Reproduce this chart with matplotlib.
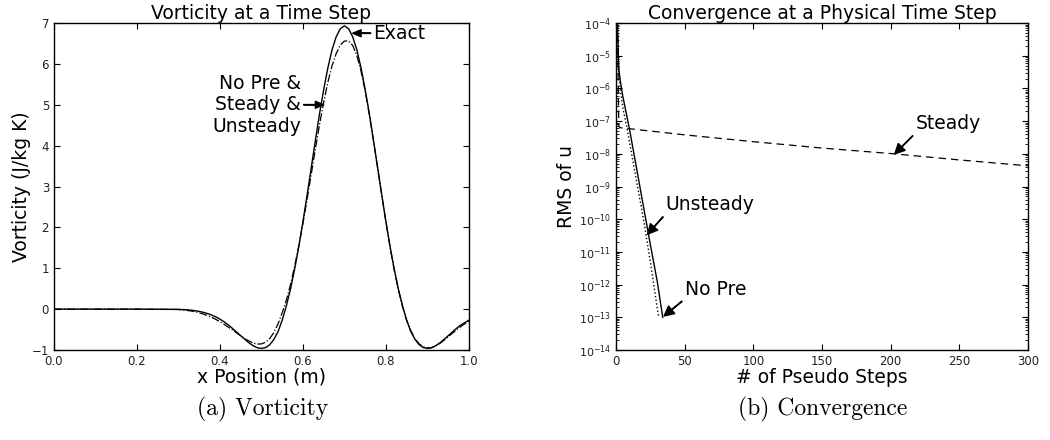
import matplotlib
matplotlib.use('Agg')
import matplotlib.pyplot as plt
from matplotlib.ticker import LogLocator, NullFormatter
import numpy as np

# vorticity profile (flat zero before x = 0.3)
x_pos = [0.0, 0.1, 0.2] + list(np.round(np.arange(0.30, 1.0001, 0.01), 2))
vort_exact = [0.0, 0.0, 0.0,
              -0.005, -0.010, -0.016, -0.025, -0.038, -0.055, -0.078, -0.108, -0.145, -0.19,
              -0.245, -0.31, -0.385, -0.47, -0.56, -0.65, -0.74, -0.825, -0.895, -0.945,
              -0.96, -0.94, -0.87, -0.74, -0.55, -0.27, 0.08, 0.49, 0.98, 1.53,
              2.14, 2.79, 3.46, 4.13, 4.78, 5.37, 5.90, 6.34, 6.66, 6.86,
              6.93, 6.86, 6.66, 6.34, 5.90, 5.37, 4.78, 4.13, 3.46, 2.79,
              2.14, 1.53, 0.98, 0.49, 0.08, -0.27, -0.55, -0.74, -0.87, -0.94,
              -0.96, -0.945, -0.895, -0.825, -0.74, -0.65, -0.56, -0.47, -0.39, -0.33,
              -0.27]
vort_num = [0.0, 0.0, 0.0,
            -0.01, -0.02, -0.03, -0.045, -0.06, -0.09, -0.12, -0.16, -0.20, -0.25,
            -0.31, -0.37, -0.44, -0.51, -0.58, -0.65, -0.72, -0.78, -0.83, -0.855,
            -0.85, -0.81, -0.72, -0.57, -0.36, -0.09, 0.22, 0.60, 1.05, 1.55,
            2.10, 2.69, 3.30, 3.92, 4.52, 5.06, 5.55, 5.95, 6.25, 6.46,
            6.56, 6.56, 6.45, 6.20, 5.82, 5.33, 4.75, 4.11, 3.45, 2.78,
            2.12, 1.51, 0.95, 0.47, 0.06, -0.28, -0.53, -0.72, -0.85, -0.92,
            -0.95, -0.94, -0.90, -0.84, -0.76, -0.68, -0.59, -0.51, -0.43, -0.36,
            -0.29]

# convergence histories
steps_unsteady = [1, 2, 3, 4, 5, 10, 15, 20, 25, 30, 34]
rms_unsteady = [9e-5, 4e-6, 1.8e-6, 1e-6, 5.6e-7, 5.1e-8, 3.5e-9, 2.4e-10,
                1.66e-11, 1.26e-12, 1e-13]
steps_nopre = [1, 2, 3, 5, 8, 15, 20, 25, 31]
rms_nopre = [1e-4, 3.2e-6, 1e-6, 2.5e-7, 6e-8, 1.4e-9, 1e-10, 5e-12, 1e-13]
steps_steady = [1, 2, 3, 50, 100, 150, 200, 250, 300]
rms_steady = [1e-4, 7e-8, 6.3e-8, 3.8e-8, 2.35e-8, 1.5e-8, 1.02e-8, 6.5e-9, 4.3e-9]

fs = 13.5
fig = plt.figure(figsize=(10.5, 4.4), dpi=100)
ax1 = fig.add_axes([0.0514, 0.2045, 0.3952, 0.7432])
ax2 = fig.add_axes([0.5867, 0.2045, 0.3924, 0.7432])

for ax in (ax1, ax2):
    ax.tick_params(direction='in', top=True, right=True, labelsize=8.5, length=4,
                   labelcolor='#222222')
    ax.tick_params(which='minor', direction='in', top=True, right=True, length=2)
    for s in ax.spines.values():
        s.set_linewidth(1.0)

ax1.plot(x_pos, vort_exact, 'k-', lw=1.0)
ax1.plot(x_pos, vort_num, 'k-.', lw=0.9)
ax1.set_xlim(0, 1)
ax1.set_ylim(-1, 7)
ax1.set_title('Vorticity at a Time Step', fontsize=fs, pad=2)
ax1.set_xlabel('x Position (m)', fontsize=fs, labelpad=0)
ax1.set_ylabel('Vorticity (J/kg K)', fontsize=fs)
ax1.yaxis.set_label_coords(-0.055, 0.5)
small = dict(facecolor='black', width=0.3, headwidth=5, headlength=6, shrink=0)
ax1.annotate('Exact', xy=(0.72, 6.75), xytext=(0.77, 6.75), ha='left', va='center',
             fontsize=fs, arrowprops=small)
ax1.annotate('No Pre &\nSteady &\nUnsteady', xy=(0.65, 5.0), xytext=(0.595, 5.0),
             ha='right', va='center', fontsize=fs, linespacing=1.15, arrowprops=small)

ax2.semilogy(steps_unsteady, rms_unsteady, 'k-', lw=1.0)
ax2.semilogy(steps_nopre, rms_nopre, 'k:', lw=1.0)
ax2.semilogy(steps_steady, rms_steady, 'k--', lw=0.9, dashes=(6, 4))
ax2.set_xlim(0, 300)
ax2.set_ylim(1e-14, 1e-4)
ax2.set_yticks([10.0 ** -e for e in range(4, 15)])
ax2.yaxis.set_minor_locator(LogLocator(base=10, subs=np.arange(2, 10), numticks=100))
ax2.yaxis.set_minor_formatter(NullFormatter())
ax2.tick_params(axis='y', labelsize=8)
ax2.set_title('Convergence at a Physical Time Step', fontsize=fs, pad=2)
ax2.set_xlabel('# of Pseudo Steps', fontsize=fs, labelpad=0)
ax2.set_ylabel('RMS of u', fontsize=fs)
ax2.yaxis.set_label_coords(-0.097, 0.5)
big = dict(facecolor='black', width=0.3, headwidth=7, headlength=7, shrink=0)
ax2.annotate('Steady', xy=(203, 1e-8), xytext=(218, 5.7e-8), va='baseline',
             fontsize=fs, arrowprops=big)
ax2.annotate('Unsteady', xy=(23, 3.5e-11), xytext=(36, 1.9e-10), va='baseline',
             fontsize=fs, arrowprops=big)
ax2.annotate('No Pre', xy=(35, 1.1e-13), xytext=(50, 4.8e-13), va='baseline',
             fontsize=fs, arrowprops=big)

fig.text(0.250, 0.070, '(a) Vorticity', ha='center', va='center', family='cmr10', fontsize=17)
fig.text(0.783, 0.070, '(b) Convergence', ha='center', va='center', family='cmr10', fontsize=17)

fig.savefig('out.png', dpi=100)
